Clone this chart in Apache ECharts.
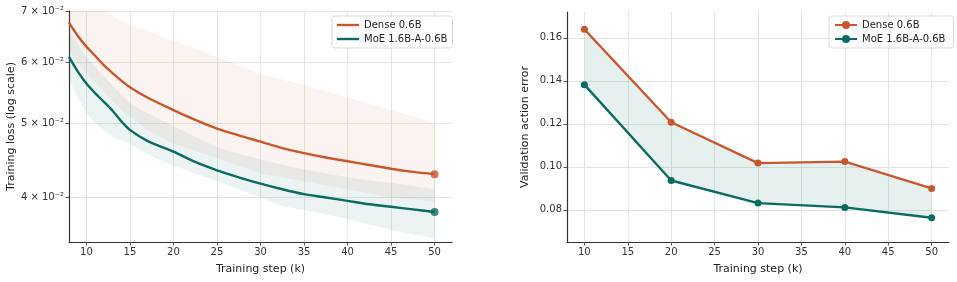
<!DOCTYPE html>
<html>
<head>
<meta charset="utf-8">
<script src="https://cdn.jsdelivr.net/npm/echarts@6/dist/echarts.min.js"></script>
<style>
  html, body { margin: 0; padding: 0; background: #fff; }
  #chart { width: 957px; height: 282px; }
</style>
</head>
<body>
<div id="chart"></div>
<script>
// training loss curves (step in k)
var lossSteps = [8, 9, 10, 11, 12, 13, 14, 15, 17, 20, 22.5, 25, 27.5, 30, 32.5, 35, 37.5, 40, 42.5, 45, 47.5, 50];
var denseLoss = [0.0676, 0.0650, 0.0629, 0.0612, 0.0595, 0.0581, 0.0568, 0.0557, 0.0540, 0.0520, 0.0505, 0.0492, 0.0482, 0.0473, 0.0464, 0.0457, 0.0451, 0.0446, 0.0441, 0.0436, 0.0432, 0.0429];
var moeLoss = [0.0610, 0.0584, 0.0563, 0.0547, 0.0533, 0.0519, 0.0503, 0.0490, 0.0474, 0.0459, 0.0445, 0.0434, 0.0425, 0.0417, 0.0410, 0.0404, 0.0400, 0.0396, 0.0392, 0.0389, 0.0386, 0.0383];
// noisy raw-loss envelopes
var denseUpper = [0.078, 0.075, 0.073, 0.071, 0.070, 0.069, 0.068, 0.067, 0.066, 0.064, 0.0625, 0.061, 0.0595, 0.058, 0.057, 0.056, 0.055, 0.054, 0.053, 0.052, 0.051, 0.050];
var denseLower = [0.062, 0.060, 0.058, 0.0565, 0.055, 0.0535, 0.052, 0.051, 0.049, 0.047, 0.046, 0.045, 0.044, 0.043, 0.0425, 0.042, 0.0415, 0.041, 0.0405, 0.040, 0.0398, 0.0395];
var moeUpper = [0.066, 0.0635, 0.061, 0.0592, 0.0575, 0.056, 0.0545, 0.053, 0.0515, 0.0495, 0.048, 0.0465, 0.0456, 0.0448, 0.0441, 0.0435, 0.043, 0.0425, 0.0421, 0.0418, 0.0414, 0.041];
var moeLower = [0.057, 0.054, 0.0515, 0.050, 0.049, 0.048, 0.0475, 0.047, 0.0455, 0.044, 0.043, 0.042, 0.041, 0.040, 0.039, 0.0385, 0.038, 0.0375, 0.0369, 0.0363, 0.0358, 0.0354];
var lossTicks = [0.04, 0.05, 0.06, 0.07];

// validation action error
var valSteps = [10, 20, 30, 40, 50];
var denseVal = [0.164, 0.1207, 0.1017, 0.1024, 0.0899];
var moeVal = [0.1382, 0.0936, 0.0831, 0.0811, 0.0763];
var valTicks = [0.08, 0.10, 0.12, 0.14, 0.16];
var stepTicks = [10, 15, 20, 25, 30, 35, 40, 45, 50];

var ORANGE = '#c9572e';
var TEAL = '#0b6b60';
var FONT = 'DejaVu Sans';
var LINE_ICON = 'path://M0,0 L24,0 L24,2.6 L0,2.6 Z';

var chart = echarts.init(document.getElementById('chart'));

function pairs(xs, ys) {
  return xs.map(function (x, i) { return [x, ys[i]]; });
}

// filled band between two curves, drawn with the axis scales
function band(xIndex, xs, up, lo, color) {
  return {
    type: 'custom',
    xAxisIndex: xIndex,
    yAxisIndex: xIndex,
    silent: true,
    z: 1,
    data: [0],
    renderItem: function (params, api) {
      var pts = [];
      for (var i = 0; i < xs.length; i++) pts.push(api.coord([xs[i], up[i]]));
      for (var j = xs.length - 1; j >= 0; j--) pts.push(api.coord([xs[j], lo[j]]));
      var cs = params.coordSys;
      pts = echarts.graphic.clipPointsByRect(pts, { x: cs.x, y: cs.y, width: cs.width, height: cs.height });
      return { type: 'polygon', shape: { points: pts }, style: { fill: color } };
    }
  };
}

var axisCommon = {
  axisLine: { show: true, lineStyle: { color: '#333', width: 1.2 } },
  axisTick: { show: true, length: 3.5, lineStyle: { color: '#555' } },
  axisLabel: { color: '#333', fontFamily: FONT, fontSize: 10, margin: 5 },
  splitLine: { show: true, lineStyle: { color: '#e3e7e3', width: 1 } },
  nameTextStyle: { color: '#222', fontFamily: FONT, fontSize: 11 }
};

function xAxis(idx) {
  return echarts.util.merge({
    type: 'value', gridIndex: idx, min: 8, max: 52,
    name: 'Training step (k)', nameLocation: 'middle', nameGap: 22,
    axisTick: { customValues: stepTicks },
    axisLabel: { customValues: stepTicks }
  }, axisCommon, false);
}

var legendCommon = {
  orient: 'vertical', top: 16,
  itemWidth: 22, itemHeight: 10, itemGap: 4,
  padding: [4, 5, 4, 5],
  borderColor: '#d9d9d9', borderWidth: 1, borderRadius: 3,
  backgroundColor: 'rgba(255,255,255,0.85)',
  textStyle: { fontFamily: FONT, fontSize: 10, color: '#222' }
};

var option = {
  animation: false,
  textStyle: { fontFamily: FONT },
  grid: [
    { left: 69, top: 11, width: 383, bottom: 40 },
    { left: 567, top: 12, width: 382, bottom: 40 }
  ],
  legend: [
    echarts.util.merge({
      left: 332,
      data: [
        { name: 'Dense 0.6B', icon: LINE_ICON },
        { name: 'MoE 1.6B-A-0.6B', icon: LINE_ICON }
      ]
    }, legendCommon, false),
    echarts.util.merge({
      left: 829,
      data: ['Dense 0.6B ', 'MoE 1.6B-A-0.6B ']
    }, legendCommon, false)
  ],
  xAxis: [xAxis(0), xAxis(1)],
  yAxis: [
    echarts.util.merge({
      type: 'log', logBase: 10, gridIndex: 0, min: 0.035, max: 0.07,
      name: 'Training loss (log scale)', nameLocation: 'middle', nameGap: 50,
      axisTick: { customValues: lossTicks },
      axisLabel: {
        customValues: lossTicks,
        formatter: function (v) { return Math.round(v * 100) + ' × 10⁻²'; }
      }
    }, axisCommon, false),
    echarts.util.merge({
      type: 'value', gridIndex: 1, min: 0.065, max: 0.172,
      name: 'Validation action error', nameLocation: 'middle', nameGap: 36,
      axisTick: { customValues: valTicks },
      axisLabel: {
        customValues: valTicks,
        formatter: function (v) { return v.toFixed(2); }
      }
    }, axisCommon, false)
  ],
  series: [
    band(0, lossSteps, denseUpper, denseLower, 'rgba(201,87,46,0.07)'),
    band(0, lossSteps, moeUpper, moeLower, 'rgba(11,107,96,0.08)'),
    {
      name: 'Dense 0.6B', type: 'line', xAxisIndex: 0, yAxisIndex: 0,
      data: pairs(lossSteps, denseLoss), symbol: 'none', smooth: 0.3,
      lineStyle: { color: ORANGE, width: 2.4 }, itemStyle: { color: ORANGE }, z: 3
    },
    {
      name: 'MoE 1.6B-A-0.6B', type: 'line', xAxisIndex: 0, yAxisIndex: 0,
      data: pairs(lossSteps, moeLoss), symbol: 'none', smooth: 0.3,
      lineStyle: { color: TEAL, width: 2.4 }, itemStyle: { color: TEAL }, z: 3
    },
    {
      type: 'scatter', xAxisIndex: 0, yAxisIndex: 0, symbolSize: 8, z: 4,
      data: [[lossSteps[lossSteps.length - 1], denseLoss[denseLoss.length - 1]]],
      itemStyle: { color: ORANGE }
    },
    {
      type: 'scatter', xAxisIndex: 0, yAxisIndex: 0, symbolSize: 8, z: 4,
      data: [[lossSteps[lossSteps.length - 1], moeLoss[moeLoss.length - 1]]],
      itemStyle: { color: TEAL }
    },
    band(1, valSteps, denseVal, moeVal, 'rgba(11,107,96,0.1)'),
    {
      name: 'Dense 0.6B ', type: 'line', xAxisIndex: 1, yAxisIndex: 1,
      data: pairs(valSteps, denseVal), symbol: 'circle', symbolSize: 7,
      lineStyle: { color: ORANGE, width: 2.4 }, itemStyle: { color: ORANGE }, z: 3
    },
    {
      name: 'MoE 1.6B-A-0.6B ', type: 'line', xAxisIndex: 1, yAxisIndex: 1,
      data: pairs(valSteps, moeVal), symbol: 'circle', symbolSize: 7,
      lineStyle: { color: TEAL, width: 2.4 }, itemStyle: { color: TEAL }, z: 3
    }
  ]
};

chart.setOption(option);
</script>
</body>
</html>
